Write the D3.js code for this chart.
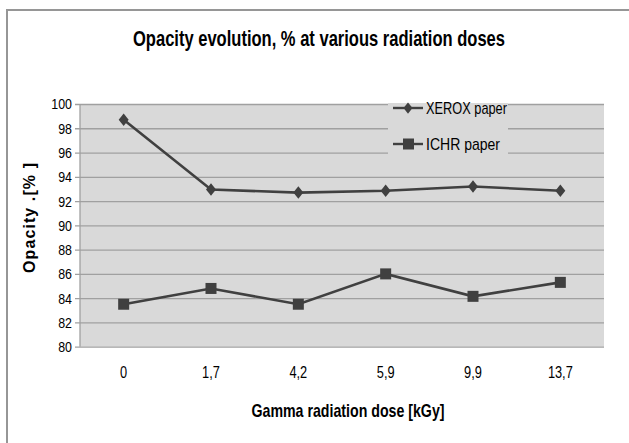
<!DOCTYPE html>
<html><head><meta charset="utf-8">
<script src="https://cdn.jsdelivr.net/npm/d3@7"></script>
<style>body{margin:0;background:#fff}text{font-family:"Liberation Sans",Arial,sans-serif}</style>
</head><body><svg id="c" width="629" height="443"></svg>
<script>
const categories = ["0","1,7","4,2","5,9","9,9","13,7"];
const xerox = [98.7, 92.95, 92.7, 92.85, 93.2, 92.85];
const ichr = [83.5, 84.8, 83.5, 86.0, 84.15, 85.3];
const yTicks = [80,82,84,86,88,90,92,94,96,98,100];
const seriesNames = ["XEROX paper","ICHR paper"];

const svg = d3.select("#c");
const L=80,R=604,T=104,B=346.7;
function narrow(sel,f){sel.each(function(){const w=this.getComputedTextLength();d3.select(this).attr("textLength",w*f).attr("lengthAdjust","spacingAndGlyphs");});}

svg.append("path").attr("d","M7,443 V10 H629").attr("fill","none").attr("stroke","#969696").attr("stroke-width",2);

const x = d3.scaleBand().domain(categories).range([L,R]);
const y = d3.scaleLinear().domain([80,100]).range([B,T]);

svg.append("rect").attr("x",L).attr("y",T).attr("width",R-L).attr("height",B-T).attr("fill","#d9d9d9");
const yAxis = d3.axisLeft(y).tickValues(yTicks).tickSize(-(R-L)).tickPadding(8).tickFormat(d3.format("d"));
const ga = svg.append("g").attr("transform",`translate(${L},0)`).call(yAxis);
ga.select(".domain").remove();
ga.selectAll(".tick line").attr("stroke","#a0a0a0").attr("stroke-width",1.3).attr("x1",-5);
ga.selectAll(".tick text").attr("font-size",15.5).attr("fill","#000").style("font-family",'"Liberation Sans",Arial,sans-serif').call(narrow,0.8);
svg.append("line").attr("x1",L).attr("x2",L).attr("y1",T).attr("y2",B).attr("stroke","#a0a0a0").attr("stroke-width",1.3);

const xAxis = d3.axisBottom(x).tickSize(0).tickPadding(20);
const gx = svg.append("g").attr("transform",`translate(0,${B})`).call(xAxis);
gx.select(".domain").remove();
gx.selectAll(".tick text").attr("font-size",16).attr("fill","#000").style("font-family",'"Liberation Sans",Arial,sans-serif').call(narrow,0.8);

svg.append("rect").attr("x",388).attr("y",T-1).attr("width",120).attr("height",58).attr("fill","#d9d9d9");

const cx = d=>x(d)+x.bandwidth()/2;
const line = d3.line().x((d,i)=>cx(categories[i])).y(d=>y(d));
const col="#404040";
svg.append("path").datum(xerox).attr("d",line).attr("fill","none").attr("stroke",col).attr("stroke-width",2.6);
svg.append("path").datum(ichr).attr("d",line).attr("fill","none").attr("stroke",col).attr("stroke-width",2.6);
const diamond = (px,py,s)=>`M${px},${py-s*1.25} L${px+s},${py} L${px},${py+s*1.25} L${px-s},${py} Z`;
svg.selectAll(".dm").data(xerox).join("path").attr("d",(d,i)=>diamond(cx(categories[i]),y(d),5)).attr("fill",col);
svg.selectAll(".sq").data(ichr).join("rect").attr("x",(d,i)=>cx(categories[i])-5.5).attr("y",d=>y(d)-5.5).attr("width",11).attr("height",11).attr("fill",col);

const ly=[108,144], lw=[81,74];
seriesNames.forEach((n,i)=>{
  svg.append("line").attr("x1",393).attr("x2",423).attr("y1",ly[i]).attr("y2",ly[i]).attr("stroke",col).attr("stroke-width",2.4);
  if(i===0) svg.append("path").attr("d",diamond(408,ly[i],4.5)).attr("fill",col);
  else svg.append("rect").attr("x",403).attr("y",ly[i]-5.5).attr("width",11).attr("height",11).attr("fill",col);
  svg.append("text").attr("x",426).attr("y",ly[i]+5.5).attr("font-size",17).attr("fill","#000").attr("textLength",lw[i]).attr("lengthAdjust","spacingAndGlyphs").text(n);
});

svg.append("text").attr("x",319).attr("y",46).attr("text-anchor","middle").attr("font-size",21.5).attr("font-weight","bold").attr("textLength",372).attr("lengthAdjust","spacingAndGlyphs").text("Opacity evolution, % at various radiation doses");
svg.append("text").attr("x",348).attr("y",417).attr("text-anchor","middle").attr("font-size",19).attr("font-weight","bold").attr("textLength",193).attr("lengthAdjust","spacingAndGlyphs").text("Gamma radiation dose [kGy]");
svg.append("text").attr("transform","translate(35,218) rotate(-90)").attr("text-anchor","middle").attr("font-size",16).attr("font-weight","bold").attr("textLength",110).attr("lengthAdjust","spacing").text("Opacity .[% ]");
</script></body></html>
